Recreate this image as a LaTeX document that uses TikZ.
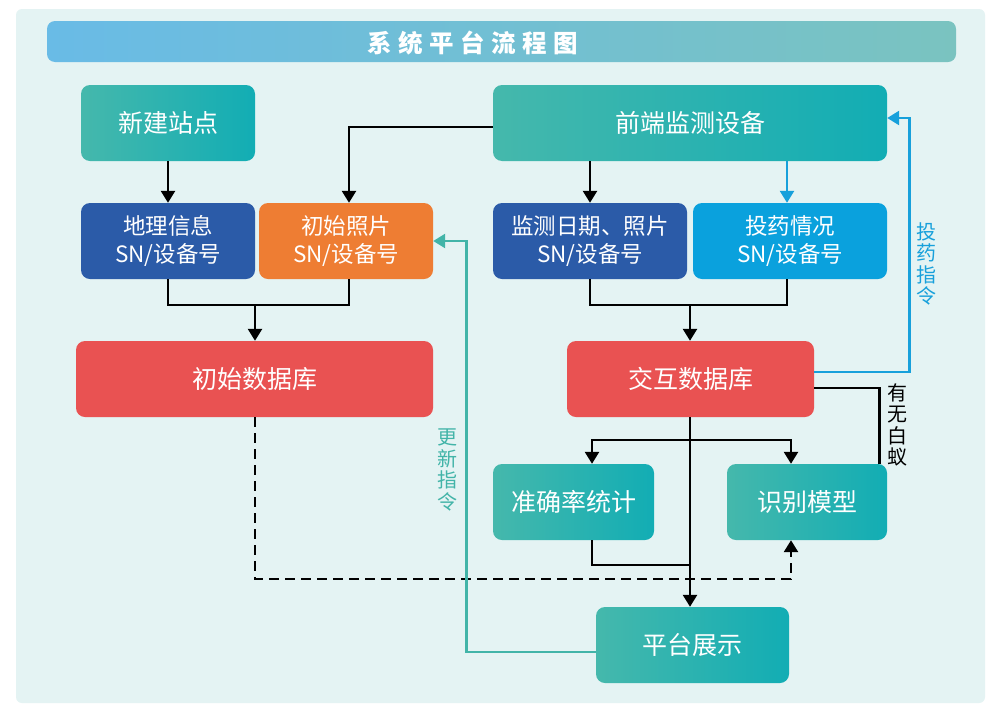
\documentclass[tikz,border=0pt]{standalone}
\usepackage{fontspec}
\setmainfont{Noto Sans CJK SC}
\usetikzlibrary{arrows.meta,calc}
\definecolor{panel}{HTML}{E4F3F3}
\definecolor{titleA}{HTML}{69BBE6}
\definecolor{titleB}{HTML}{7AC3C0}
\definecolor{tealA}{HTML}{45B8AC}
\definecolor{tealB}{HTML}{12ADB4}
\definecolor{dblue}{HTML}{2B5BA8}
\definecolor{lblue}{HTML}{0AA1DD}
\definecolor{orng}{HTML}{EE7D33}
\definecolor{redb}{HTML}{E95252}
\definecolor{bline}{HTML}{17A0DB}
\definecolor{tline}{HTML}{42B4A8}
\begin{document}
\begin{tikzpicture}[x=1pt,y=-1pt,
  box/.style={rounded corners=9pt, minimum height=76pt, text=white, align=center, inner sep=0pt},
  onefont/.style={font=\fontsize{25}{28}\selectfont},
  twofont/.style={font=\fontsize{22.5}{28}\selectfont},
  tealbox/.style={box, onefont, left color=tealA, right color=tealB},
  bluebox/.style={box, twofont, fill=dblue},
  lbluebox/.style={box, twofont, fill=lblue},
  orangebox/.style={box, twofont, fill=orng},
  redbox/.style={box, onefont, fill=redb},
  tip/.style={-{Triangle[length=12pt,width=14pt]}},
  conn/.style={line width=2.6pt, black},
  arr/.style={conn, tip},
  vlabel/.style={align=center, inner sep=0pt, font=\fontsize{20}{21.5}\selectfont},
]
\useasboundingbox (0,0) rectangle (1000,715);
\fill[white] (0,0) rectangle (1000,715);
\fill[panel, rounded corners=6pt] (16,9) rectangle (985,703);
\shade[rounded corners=8pt, left color=titleA, right color=titleB] (47,21) rectangle (956,62);
\node[text=white, font=\fontsize{24.5}{27}\selectfont\bfseries, inner sep=0pt] (title) at (473,43)
  {系\hspace{6.5pt}统\hspace{6.5pt}平\hspace{6.5pt}台\hspace{6.5pt}流\hspace{6.5pt}程\hspace{6.5pt}图};

\node[tealbox, minimum width=174pt] (xinjian) at (168,123) {新建站点};
\node[bluebox, minimum width=174pt] (dili) at (168,241) {地理信息\\SN/设备号};
\node[orangebox, minimum width=174pt] (zhaopian) at (346,241) {初始照片\\SN/设备号};
\node[tealbox, minimum width=394pt] (qianduan) at (690,123) {前端监测设备};
\node[bluebox, minimum width=194pt] (jiance) at (590,241) {监测日期、照片\\SN/设备号};
\node[lbluebox, minimum width=194pt] (touyao) at (790,241) {投药情况\\SN/设备号};
\node[redbox, minimum width=357pt] (initdb) at (254.5,379) {初始数据库};
\node[redbox, minimum width=247pt] (interdb) at (690.5,379) {交互数据库};
\node[tealbox, minimum width=161pt] (zhunque) at (573.5,502) {准确率统计};
\node[tealbox, minimum width=160pt] (shibie) at (807,502) {识别模型};
\node[tealbox, minimum width=193pt] (pingtai) at (692.5,645) {平台展示};

\coordinate (j1) at (255,305);
\coordinate (j2) at (690,305);
\coordinate (br) at (690,440);
\coordinate (zq) at (690,565);
\coordinate (dsh) at (255,579);

% top-left
\draw[arr] (xinjian.south) -- (dili.north);
\draw[arr] ([yshift=-4pt]qianduan.west) -| ([xshift=3pt]zhaopian.north);
\draw[arr] (qianduan.south -| jiance.north) -- (jiance.north);
\draw[conn, bline, tip] ([xshift=-3pt]qianduan.south -| touyao.north) -- ([xshift=-3pt]touyao.north);
% merge to databases
\draw[conn] (dili.south) |- (j1);
\draw[conn] ([xshift=3pt]zhaopian.south) |- (j1);
\draw[arr] (j1) -- (initdb.north -| j1);
\draw[conn] (jiance.south) |- (j2);
\draw[conn] ([xshift=-3pt]touyao.south) |- (j2);
\draw[arr] (j2) -- (interdb.north -| j2);
% feedback dosing
\draw[conn, bline, tip] ([yshift=7pt]interdb.east) -| ([xshift=22pt,yshift=5pt]qianduan.east) -- ([yshift=5pt]qianduan.east);
\node[vlabel, text=bline] (lbtouyao) at (926,264) {投\\药\\指\\令};
% termite yes/no
\draw[conn] ([yshift=-9pt]interdb.east) -| ([xshift=-8pt]shibie.north east);
\node[vlabel, text=black] (lbbaiyi) at (897,425) {有\\无\\白\\蚁};
% down from interactive db
\draw[arr] (interdb.south -| br) -- (pingtai.north -| br);
\draw[arr] (br) -| ([xshift=18.5pt]zhunque.north);
\draw[arr] (br) -| ([xshift=-16pt]shibie.north);
\draw[conn] ([xshift=18.5pt]zhunque.south) |- (zq);
% dashed
\draw[conn, dash pattern=on 10pt off 6pt, tip] (initdb.south -| dsh) |- ([xshift=-16pt]dsh -| shibie.south) -- ([xshift=-16pt]shibie.south);
% update command
\draw[conn, tline, tip] ([yshift=-7pt]pingtai.west) -| ([xshift=33pt]zhaopian.east) -- (zhaopian.east);
\node[vlabel, text=tline] (lbgengxin) at (447,470) {更\\新\\指\\令};
\end{tikzpicture}
\end{document}
